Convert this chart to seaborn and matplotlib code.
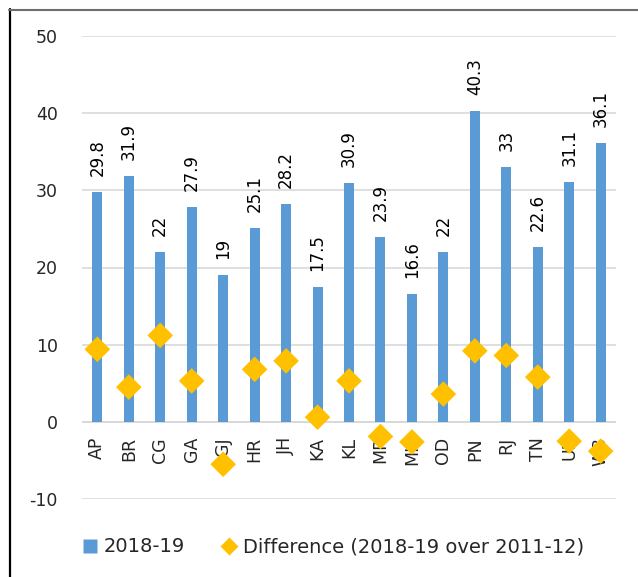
import matplotlib
matplotlib.use("Agg")
import matplotlib.pyplot as plt
import seaborn as sns
import pandas as pd
from matplotlib.lines import Line2D

states = ["AP", "BR", "CG", "GA", "GJ", "HR", "JH", "KA", "KL", "MP", "MH",
          "OD", "PN", "RJ", "TN", "UP", "WB"]
values_2018 = [29.8, 31.9, 22, 27.9, 19, 25.1, 28.2, 17.5, 30.9, 23.9, 16.6,
               22, 40.3, 33, 22.6, 31.1, 36.1]
value_labels = ["29.8", "31.9", "22", "27.9", "19", "25.1", "28.2", "17.5", "30.9",
                "23.9", "16.6", "22", "40.3", "33", "22.6", "31.1", "36.1"]
difference = [9.4, 4.5, 11.2, 5.3, -5.5, 6.8, 7.9, 0.6, 5.3, -1.9, -2.6,
              3.6, 9.2, 8.6, 5.8, -2.5, -3.8]
y_ticks = [-10, 0, 10, 20, 30, 40, 50]
legend_labels = ["2018-19", "Difference (2018-19 over 2011-12)"]

BAR = "#5B9BD5"
DIAM = "#FFC000"

sns.set_style("white")
plt.rcParams["font.family"] = ["DejaVu Sans"]

df = pd.DataFrame({"state": states, "v": values_2018, "d": difference})

W, H = 638, 577
fig = plt.figure(figsize=(W / 100, H / 100), dpi=100)
ax = fig.add_axes([81.6 / W, 1 - 499 / H, 534.8 / W, 463 / H])

sns.barplot(data=df, x="state", y="v", color=BAR, saturation=1, width=0.32,
            linewidth=0, edgecolor="none", ax=ax, zorder=2)
sns.scatterplot(data=df, x="state", y="d", marker="D", s=170, color=DIAM,
                edgecolor="none", ax=ax, zorder=3, legend=False)

for i, (v, lab) in enumerate(zip(values_2018, value_labels)):
    ax.annotate(lab, (i, v), xytext=(0, 11.5), textcoords="offset points",
                rotation=90, ha="center", va="bottom", fontsize=12,
                color="#000000")

ax.set_ylim(-10, 50)
ax.set_xlim(-0.5, len(states) - 0.5)
ax.set_yticks(y_ticks)
ax.set_yticklabels([str(t) for t in y_ticks], fontsize=12.5)
ax.yaxis.grid(True, color="#D9D9D9", lw=1.2, zorder=0)
ax.set_axisbelow(True)
ax.axhline(0, color="#D9D9D9", lw=1.4, zorder=1)
for s in ax.spines.values():
    s.set_visible(False)
ax.spines["bottom"].set_position(("data", 0))
ax.tick_params(axis="y", length=0, pad=17)
ax.tick_params(axis="x", length=0, pad=11, labelrotation=90, labelsize=12.5)
for t in ax.get_xticklabels():
    t.set_va("top")
ax.set_xlabel("")
ax.set_ylabel("")

handles = [
    Line2D([], [], marker="s", linestyle="none", markersize=10.5, color=BAR,
           markeredgecolor="none"),
    Line2D([], [], marker="D", linestyle="none", markersize=9.5, color=DIAM,
           markeredgecolor="none"),
]
fig.legend(handles, legend_labels, loc="center left",
           bbox_to_anchor=(80.3 / W, 1 - 547 / H), ncol=2, frameon=False,
           fontsize=14, handlelength=1.0, handletextpad=0.2,
           columnspacing=1.78, borderaxespad=0, borderpad=0)

fig.add_artist(Line2D([9.5 / W, 9.5 / W], [0, 1 - 9 / H], color="black",
                      lw=1.6, transform=fig.transFigure))
fig.add_artist(Line2D([8.8 / W, 1], [1 - 9.5 / H, 1 - 9.5 / H],
                      color="#6E6E6E", lw=1.5, transform=fig.transFigure))

fig.savefig("out.png", dpi=100)
